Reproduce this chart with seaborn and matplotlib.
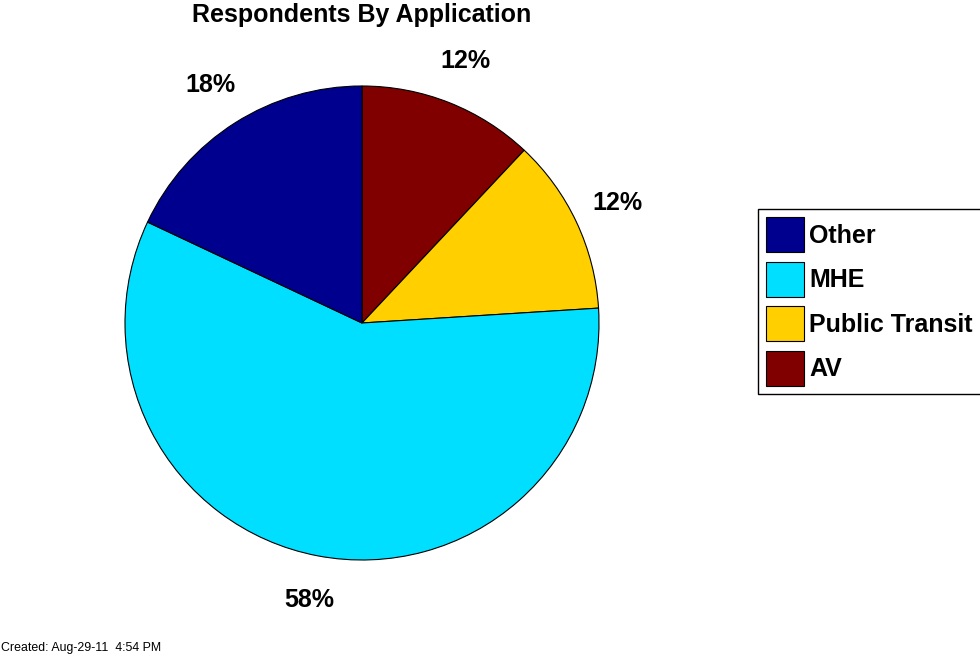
import matplotlib
matplotlib.use("Agg")
import matplotlib.pyplot as plt
import seaborn as sns

# Data (clockwise from 12 o'clock)
categories = ["AV", "Public Transit", "MHE", "Other"]
values = [12, 12, 58, 18]
colors = ["#800000", "#FFCF00", "#00DFFF", "#00008F"]
legend_order = ["Other", "MHE", "Public Transit", "AV"]
title = "Respondents By Application"
footnote = "Created: Aug-29-11  4:54 PM"

sns.set_theme(style="white")
plt.rcParams["font.family"] = ["Liberation Sans", "DejaVu Sans"]
plt.rcParams["text.color"] = "black"

W, H = 980, 656
fig = plt.figure(figsize=(W / 100, H / 100), dpi=100)
fig.patch.set_facecolor("white")

cx, cy, r = 362, 323, 237
ax = fig.add_axes([(cx - r) / W, (H - cy - r) / H, 2 * r / W, 2 * r / H])
wedges, texts, autotexts = ax.pie(
    values, colors=colors, startangle=90, counterclock=False,
    autopct="%1.0f%%", pctdistance=1.19,
    wedgeprops=dict(edgecolor="black", linewidth=0.8),
    textprops=dict(fontsize=18, fontweight="bold", color="black"),
)
ax.set_xlim(-1, 1)
ax.set_ylim(-1, 1)
ax.set_aspect("equal")
ax.axis("off")

handles = [wedges[categories.index(c)] for c in legend_order]
leg = fig.legend(
    handles, legend_order, loc="upper left",
    bbox_to_anchor=(758 / W, 1 - 209 / H), bbox_transform=fig.transFigure,
    prop=dict(family=["Liberation Sans", "DejaVu Sans"], weight="bold", size=18),
    handlelength=1.52, handleheight=1.78, handletextpad=0.2,
    labelspacing=0.38, borderpad=0.33, borderaxespad=0,
    frameon=True, fancybox=False, edgecolor="black", framealpha=1,
)
leg.get_frame().set_linewidth(1.0)
for t in leg.get_texts():
    t.set_color("black")
for p in leg.get_patches():
    p.set_edgecolor("black")
    p.set_linewidth(0.8)

fig.text(362 / W, 1 - 15 / H, title, ha="center", va="center",
         fontsize=18, fontweight="bold", color="black")
fig.text(1 / W, 1 - 648 / H, footnote, ha="left", va="center",
         fontsize=8.9, color="black")

fig.savefig("out.png", dpi=100, facecolor="white")
